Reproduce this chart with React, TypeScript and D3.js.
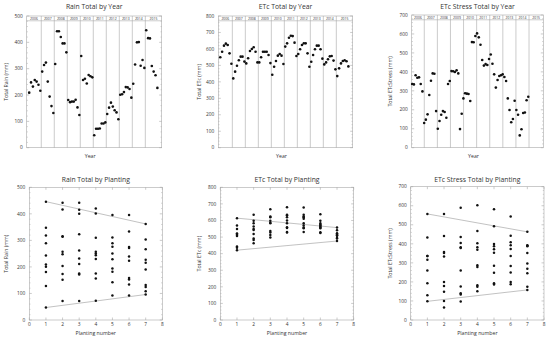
import * as d3 from "d3";

const years = ["2006", "2007", "2008", "2009", "2010", "2011", "2012", "2013", "2014", "2015"];

// seven plantings per year, 2006..2015
const rainTotals = [
  209, 248, 232, 257, 251, 239, 216,
  289, 314, 323, 251, 194, 158, 132,
  318, 442, 442, 420, 396, 396, 362,
  181, 173, 175, 175, 182, 153, 124,
  348, 257, 262, 244, 276, 271, 267,
  47, 72, 72, 73, 92, 92, 96,
  128, 152, 171, 156, 142, 134, 108,
  201, 203, 211, 230, 229, 223, 190,
  243, 316, 400, 401, 311, 333, 303,
  446, 416, 415, 310, 289, 275, 227,
];

const etcTotals = [
  549, 583, 620, 632, 624, 573, 510,
  421, 462, 498, 531, 553, 553, 523,
  512, 543, 587, 600, 610, 583, 518,
  518, 549, 583, 583, 583, 563, 514,
  443, 492, 527, 559, 569, 559, 508,
  614, 634, 668, 680, 678, 638, 557,
  569, 598, 624, 634, 634, 573, 492,
  522, 563, 598, 620, 620, 598, 541,
  506, 518, 537, 555, 557, 529, 476,
  435, 482, 512, 527, 531, 525, 494,
];
const plantingCycle = [1, 2, 3, 4, 5, 6, 7];

// stress series: last group has plantings 2..7 only
const stressTotals = [
  336, 334, 382, 369, 371, 336, 297,
  130, 148, 176, 278, 353, 392, 390,
  193, 100, 141, 174, 193, 188, 158,
  336, 352, 404, 403, 399, 408, 392,
  98, 179, 260, 287, 285, 283, 246,
  557, 556, 589, 603, 582, 543, 463,
  433, 441, 436, 468, 492, 443, 387,
  317, 357, 378, 382, 387, 373, 352,
  260, 199, 134, 151, 248, 199, 174,
  65, 97, 183, 186, 250, 269,
];
const stressPlantings = [
  ...plantingCycle, ...plantingCycle, ...plantingCycle, ...plantingCycle, ...plantingCycle,
  ...plantingCycle, ...plantingCycle, ...plantingCycle, ...plantingCycle,
  2, 3, 4, 5, 6, 7,
];

const plantingTicks = [0, 1, 2, 3, 4, 5, 6, 7, 8];

const FONT = "'Open Sans', 'DejaVu Sans', sans-serif";
const TEXT = "#333";
const FRAME = "#a8a8a8";

type Box = { x0: number; x1: number; y0: number; y1: number };

function YAxis({ y, box, max, label, labelX }: { y: d3.ScaleLinear<number, number>; box: Box; max: number; label: string; labelX: number }) {
  const major = d3.range(0, max + 1, 100);
  const minor = d3.range(0, max + 1, 20).filter((v) => v % 100 !== 0);
  return (
    <g>
      {major.map((v) => (
        <g key={"M" + v}>
          <line x1={box.x0} x2={box.x0 + 2.5} y1={y(v)} y2={y(v)} stroke={FRAME} strokeWidth={0.6} />
          <line x1={box.x1} x2={box.x1 - 2.5} y1={y(v)} y2={y(v)} stroke={FRAME} strokeWidth={0.6} />
          <text x={box.x0 - 4} y={y(v) + 1.7} fontSize={4.8} textAnchor="end" fill={TEXT} fontFamily={FONT}>
            {v}
          </text>
        </g>
      ))}
      {minor.map((v) => (
        <g key={"m" + v}>
          <line x1={box.x0} x2={box.x0 + 1.2} y1={y(v)} y2={y(v)} stroke={FRAME} strokeWidth={0.5} />
          <line x1={box.x1} x2={box.x1 - 1.2} y1={y(v)} y2={y(v)} stroke={FRAME} strokeWidth={0.5} />
        </g>
      ))}
      <text
        transform={`translate(${labelX},${(box.y0 + box.y1) / 2}) rotate(-90)`}
        fontSize={5.2}
        textAnchor="middle"
        fill={TEXT}
        fontFamily={FONT}
      >
        {label}
      </text>
    </g>
  );
}

function YearPanel(props: {
  title: string;
  ylabel: string;
  values: number[];
  max: number;
  box: Box;
  domain: [number, number];
  perYear: number;
  offset: number;
  labelX: number;
}) {
  const { box, values, max } = props;
  const x = d3.scaleLinear().domain(props.domain).range([box.x0, box.x1]);
  const y = d3.scaleLinear().domain([0, max]).range([box.y1, box.y0]);
  const headerH = 4.8;
  const bounds = [props.domain[0], ...d3.range(1, 10), props.domain[1]];
  const cx = (box.x0 + box.x1) / 2;
  return (
    <g>
      <text x={cx} y={9} fontSize={6.8} textAnchor="middle" fill={TEXT} fontFamily={FONT}>
        {props.title}
      </text>
      <rect x={box.x0} y={box.y0} width={box.x1 - box.x0} height={box.y1 - box.y0} fill="white" stroke={FRAME} strokeWidth={0.6} />
      {d3.range(1, 10).map((b) => (
        <line key={b} x1={x(b)} x2={x(b)} y1={box.y0} y2={box.y1} stroke={FRAME} strokeWidth={0.6} />
      ))}
      <line x1={box.x0} x2={box.x1} y1={box.y0 + headerH} y2={box.y0 + headerH} stroke={FRAME} strokeWidth={0.6} />
      {years.map((yr, i) => (
        <text
          key={yr}
          x={(x(bounds[i]) + x(bounds[i + 1])) / 2}
          y={box.y0 + headerH - 1.2}
          fontSize={3.4}
          textAnchor="middle"
          fill={TEXT}
          fontFamily={FONT}
        >
          {yr}
        </text>
      ))}
      <YAxis y={y} box={box} max={max} label={props.ylabel} labelX={props.labelX} />
      {values.map((v, i) => (
        <circle key={i} cx={x((i + props.offset) / props.perYear)} cy={y(v)} r={1.3} fill="#111" />
      ))}
      <text x={cx - 4} y={157.5} fontSize={5.2} textAnchor="middle" fill={TEXT} fontFamily={FONT}>
        Year
      </text>
    </g>
  );
}

function PlantingPanel(props: {
  title: string;
  ylabel: string;
  values: number[];
  plantings: number[];
  max: number;
  box: Box;
  labelX: number;
}) {
  const { box, values, plantings, max } = props;
  const x = d3.scaleLinear().domain([0, 8]).range([box.x0, box.x1]);
  const y = d3.scaleLinear().domain([0, max]).range([box.y1, box.y0]);
  const at = (p: number) => values.filter((_, i) => plantings[i] === p);
  const first = at(1);
  const last = at(7);
  const upper = [[1, d3.max(first)!], [7, d3.max(last)!]] as [number, number][];
  const lower = [[1, d3.min(first)!], [7, d3.min(last)!]] as [number, number][];
  const line = d3
    .line<[number, number]>()
    .x((d) => x(d[0]))
    .y((d) => y(d[1]));
  const cx = (box.x0 + box.x1) / 2;
  return (
    <g>
      <text x={cx} y={181.5} fontSize={6.8} textAnchor="middle" fill={TEXT} fontFamily={FONT}>
        {props.title}
      </text>
      <rect x={box.x0} y={box.y0} width={box.x1 - box.x0} height={box.y1 - box.y0} fill="white" stroke={FRAME} strokeWidth={0.6} />
      {plantingTicks.map((t) => (
        <g key={t}>
          <line x1={x(t)} x2={x(t)} y1={box.y1} y2={box.y1 - 2.5} stroke={FRAME} strokeWidth={0.6} />
          <line x1={x(t)} x2={x(t)} y1={box.y0} y2={box.y0 + 2.5} stroke={FRAME} strokeWidth={0.6} />
          <text x={x(t)} y={326.3} fontSize={4.8} textAnchor="middle" fill={TEXT} fontFamily={FONT}>
            {t}
          </text>
        </g>
      ))}
      <YAxis y={y} box={box} max={max} label={props.ylabel} labelX={props.labelX} />
      <path d={line(upper)!} stroke="#999" strokeWidth={0.6} fill="none" />
      <path d={line(lower)!} stroke="#999" strokeWidth={0.6} fill="none" />
      {values.map((v, i) => (
        <circle key={i} cx={x(plantings[i])} cy={y(v)} r={1.25} fill="#111" />
      ))}
      <text x={cx} y={335} fontSize={5.2} textAnchor="middle" fill={TEXT} fontFamily={FONT}>
        Planting number
      </text>
    </g>
  );
}

export default function App() {
  const rainPlant = rainTotals.map((_, i) => plantingCycle[i % 7]);
  const etcPlant = etcTotals.map((_, i) => plantingCycle[i % 7]);
  return (
    <svg width={550} height={340} style={{ position: "absolute", left: 0, top: 0, background: "white" }}>
      <YearPanel
        title="Rain Total by Year"
        ylabel="Total Rain (mm)"
        values={rainTotals}
        max={500}
        box={{ x0: 26.7, x1: 161.7, y0: 16, y1: 147.7 }}
        domain={[-0.12, 10.26]}
        perYear={7}
        offset={0.5}
        labelX={7.5}
      />
      <YearPanel
        title="ETc Total by Year"
        ylabel="Total ETc (mm)"
        values={etcTotals}
        max={800}
        box={{ x0: 218.3, x1: 352.7, y0: 16, y1: 147.7 }}
        domain={[-0.08, 10.26]}
        perYear={7}
        offset={0.5}
        labelX={200.5}
      />
      <YearPanel
        title="ETc Stress Total by Year"
        ylabel="Total ETcStress (mm)"
        values={stressTotals}
        max={700}
        box={{ x0: 411.7, x1: 543.3, y0: 15, y1: 147.7 }}
        domain={[0.04, 10.09]}
        perYear={7.67}
        offset={0.6}
        labelX={391.5}
      />
      <PlantingPanel
        title="Rain Total by Planting"
        ylabel="Total Rain (mm)"
        values={rainTotals}
        plantings={rainPlant}
        max={500}
        box={{ x0: 29.3, x1: 162.3, y0: 187.3, y1: 320 }}
        labelX={7.5}
      />
      <PlantingPanel
        title="ETc Total by Planting"
        ylabel="Total ETc (mm)"
        values={etcTotals}
        plantings={etcPlant}
        max={800}
        box={{ x0: 220.3, x1: 353.7, y0: 187.3, y1: 320 }}
        labelX={200.5}
      />
      <PlantingPanel
        title="ETc Stress Total by Planting"
        ylabel="Total ETcStress (mm)"
        values={stressTotals}
        plantings={stressPlantings}
        max={700}
        box={{ x0: 410.7, x1: 544, y0: 186.7, y1: 320 }}
        labelX={391.5}
      />
    </svg>
  );
}
